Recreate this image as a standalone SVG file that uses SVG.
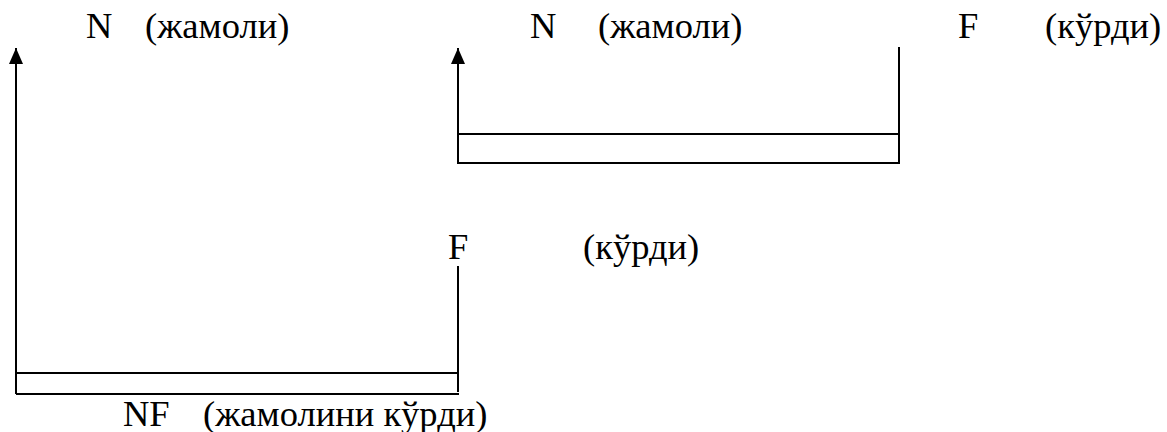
<svg xmlns="http://www.w3.org/2000/svg" width="1167" height="432" viewBox="0 0 1167 432">
<style>
text{font-family:"Liberation Serif","Times New Roman",serif;font-size:36.5px;fill:#000}
.ln{stroke:#000;stroke-width:2;fill:none}
</style>
<defs>
<marker id="ah" viewBox="0 0 16 14" refX="16" refY="7" markerWidth="16" markerHeight="14" markerUnits="userSpaceOnUse" orient="auto">
<path d="M0,0 L16,7 L0,14 Z" fill="#000"/>
</marker>
</defs>
<rect width="1167" height="432" fill="#fff"/>
<g id="connectors">
<line class="ln" x1="16" y1="394" x2="16" y2="48" marker-end="url(#ah)"/>
<line class="ln" x1="16" y1="373" x2="459" y2="373"/>
<line class="ln" x1="16" y1="394" x2="459" y2="394"/>
<line class="ln" x1="458" y1="266" x2="458" y2="392"/>
<line class="ln" x1="458" y1="163" x2="458" y2="48" marker-end="url(#ah)"/>
<line class="ln" x1="457" y1="134" x2="900" y2="134"/>
<line class="ln" x1="457" y1="163" x2="900" y2="163"/>
<line class="ln" x1="899" y1="47" x2="899" y2="163"/>
</g>
<g id="n-left"><text x="86" y="38">N</text><text x="145" y="38">(жамоли)</text></g>
<g id="n-right"><text x="530" y="38">N</text><text x="598" y="38">(жамоли)</text></g>
<g id="f-top"><text x="958" y="38">F</text><text x="1045" y="38">(кўрди)</text></g>
<g id="f-mid"><text x="448" y="259">F</text><text x="583" y="259">(кўрди)</text></g>
<g id="nf"><text x="123" y="426">NF</text><text x="203" y="426">(жамолини кўрди)</text></g>
</svg>
